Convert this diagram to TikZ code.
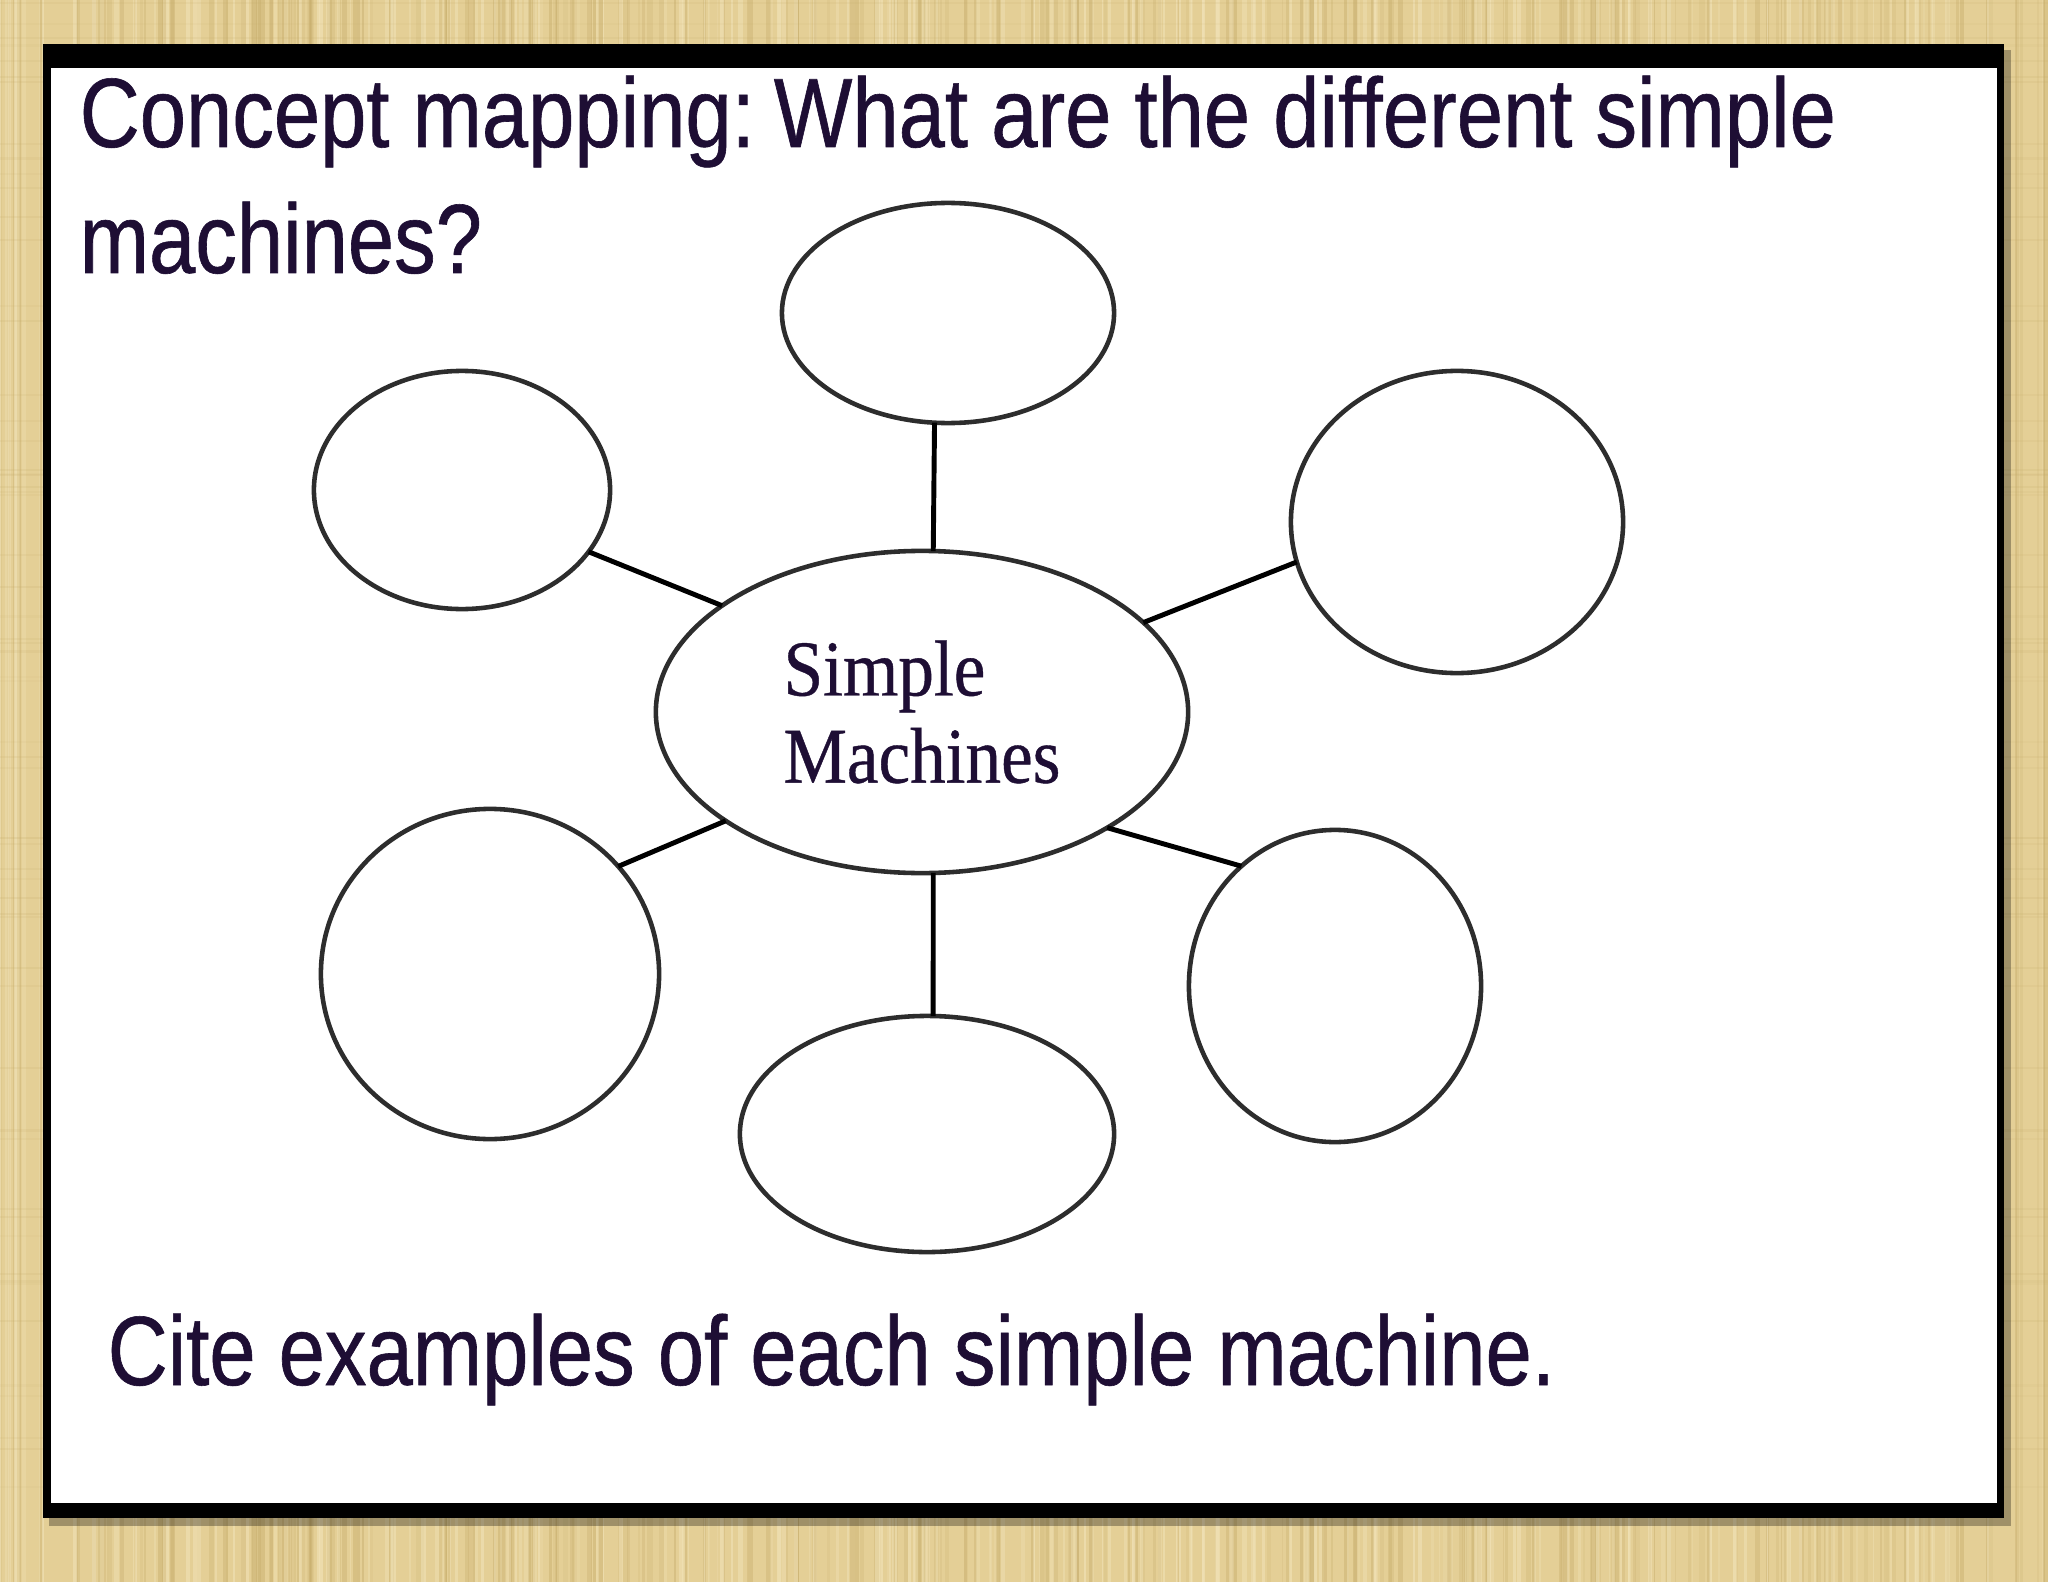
\documentclass[tikz,border=0pt]{standalone}
\usepackage{fontspec}
\usetikzlibrary{shapes.geometric}
\newfontfamily\slidefont[FakeStretch=0.845,FakeBold=0.6]{Liberation Sans}
\newfontfamily\bubblefont[FakeStretch=0.9,FakeBold=0.5]{Liberation Serif}
\definecolor{bg}{RGB}{228,207,150}
\definecolor{bgdark}{RGB}{196,170,104}
\definecolor{bglight}{RGB}{242,228,186}
\definecolor{ink}{RGB}{30,14,52}
\definecolor{ringc}{RGB}{45,45,45}
\tikzset{
  bubble/.style={ellipse, draw=ringc, line width=1.3pt, fill=white, inner sep=0pt, outer sep=0pt},
  link/.style={draw=black, line width=1.4pt},
  slidetext/.style={text=ink, inner sep=0pt, font=\slidefont\fontsize{28}{36}\selectfont},
}
\begin{document}
\begin{tikzpicture}[x=0.01cm,y=-0.01cm]
\useasboundingbox (0,0) rectangle (2048,1582);
% textured background
\fill[bg] (0,0) rectangle (2048,1582);
\pgfmathsetseed{7}
\foreach \i in {1,...,260}{
  \pgfmathsetmacro\xx{rnd*2048}
  \pgfmathsetmacro\op{0.12+0.3*rnd}
  \pgfmathsetmacro\lw{0.3+1.2*rnd}
  \draw[bgdark, opacity=\op, line width=\lw pt] (\xx,0) -- (\xx,1582);
}
\foreach \i in {1,...,200}{
  \pgfmathsetmacro\xx{rnd*2048}
  \pgfmathsetmacro\op{0.2+0.4*rnd}
  \pgfmathsetmacro\lw{0.3+1.0*rnd}
  \draw[bglight, opacity=\op, line width=\lw pt] (\xx,0) -- (\xx,1582);
}
\foreach \i in {1,...,60}{
  \pgfmathsetmacro\yy{rnd*1582}
  \pgfmathsetmacro\op{0.05+0.12*rnd}
  \draw[bgdark, opacity=\op, line width=0.6pt] (0,\yy) -- (2048,\yy);
}
% shadow, frame and panel
\fill[black, opacity=0.3] (49,50) rectangle (2011,1526);
\fill[black] (43,44) rectangle (2004,1518);
\fill[white] (51,68) rectangle (1997,1503);
% texts
\node[slidetext, anchor=base west] (t1) at (79,147) {Concept mapping:\hspace{-0.12em} What are the different simple};
\node[slidetext, anchor=base west] (t2) at (79,273) {machines?};
\node[slidetext, anchor=base west] (t3) at (107,1385) {Cite examples of each simple machine.};
% bubbles
\node[bubble, minimum width=5.32cm, minimum height=3.22cm, text=ink, align=left,
      font=\bubblefont\fontsize{22.5}{24.8}\selectfont] (c) at (922,712) {Simple\\Machines};
\node[bubble, minimum width=3.32cm, minimum height=2.20cm] (top) at (948,313) {};
\node[bubble, minimum width=2.96cm, minimum height=2.38cm] (ul) at (462,490) {};
\node[bubble, minimum width=3.32cm, minimum height=3.02cm] (ur) at (1457,522) {};
\node[bubble, minimum width=3.38cm, minimum height=3.30cm] (ll) at (490,974) {};
\node[bubble, minimum width=2.92cm, minimum height=3.12cm] (lr) at (1335,986) {};
\node[bubble, minimum width=3.74cm, minimum height=2.36cm] (bot) at (927,1134) {};
% connectors
\draw[link] (c.86) -- (top.263);
\draw[link] (c.152) -- (ul.-26);
\draw[link] (c.22) -- (ur.194);
\draw[link] (c.209) -- (ll.40);
\draw[link] (c.-32) -- (lr.128);
\draw[link] (c.-86) -- (bot.87);
\end{tikzpicture}
\end{document}
